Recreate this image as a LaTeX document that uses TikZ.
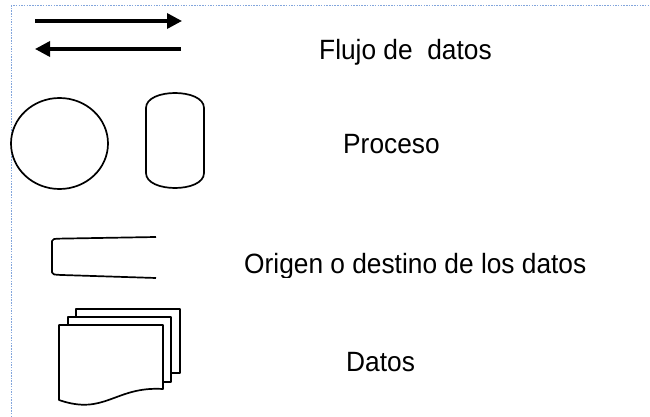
\documentclass[tikz,border=0pt]{standalone}
\usepackage{fontspec}
\setmainfont{Liberation Sans}
\usetikzlibrary{arrows.meta}
\definecolor{framecol}{RGB}{130,165,220}
\tikzset{
  shapeline/.style={line width=1.7pt, black, line join=round},
  flowarrow/.style={line width=3.4pt, -{Triangle[length=15pt,width=15pt]}},
  label/.style={anchor=base west, inner sep=0pt, font=\fontsize{26.3}{30}\selectfont},
  frameline/.style={framecol, line width=1pt, dash pattern=on 1.5pt off 1.2pt}
}
\newcommand{\stretchtext}[1]{\scalebox{1}[1.06]{#1}}
\begin{document}
\begin{tikzpicture}[x=1pt,y=-1pt]
\useasboundingbox (0,0) rectangle (650,417);
% frame
\coordinate (fc) at (11,6);
\coordinate (fr) at (650,6);
\coordinate (fb) at (11,417);
\draw[frameline] (fb) -- (fc) -- (fr);
% arrows
\coordinate (a1s) at (35,21);
\coordinate (a1e) at (182,21);
\coordinate (a2s) at (181,49);
\coordinate (a2e) at (35,49);
\draw[flowarrow] (a1s) -- (a1e);
\draw[flowarrow] (a2s) -- (a2e);
% process circle
\draw[shapeline] (59.5,143.5) ellipse [x radius=48.5, y radius=45.5];
% process capsule
\draw[shapeline] (146,108) .. controls (146,88) and (204,88) .. (204,108)
  -- (204,173) .. controls (204,193) and (146,193) .. (146,173) -- cycle;
% origin / destination
\draw[shapeline] (156,237) -- (62,238.6) .. controls (53,238.8) .. (52,241)
  -- (52,272.5) .. controls (53,274.6) .. (62,275) -- (156,278);
% data documents
\draw[shapeline, fill=white] (76,309) rectangle (180,373);
\draw[shapeline, fill=white] (68,317) rectangle (171,382);
\draw[shapeline, fill=white] (59,325) -- (163,325) -- (163,389)
  .. controls (115,386) and (105,416) .. (59,400) -- cycle;
% labels
\node[label] (flujo) at (319,59.5) {\stretchtext{Flujo de\ \ datos}};
\node[label] (proceso) at (343,153.5) {\stretchtext{Proceso}};
\begin{scope}
\clip (200,230) rectangle (650,277);
\node[label] (origen) at (244,273.5) {\stretchtext{Origen o destino de los datos}};
\end{scope}
\node[label] (datos) at (346,371.7) {\stretchtext{Datos}};
\end{tikzpicture}
\end{document}
